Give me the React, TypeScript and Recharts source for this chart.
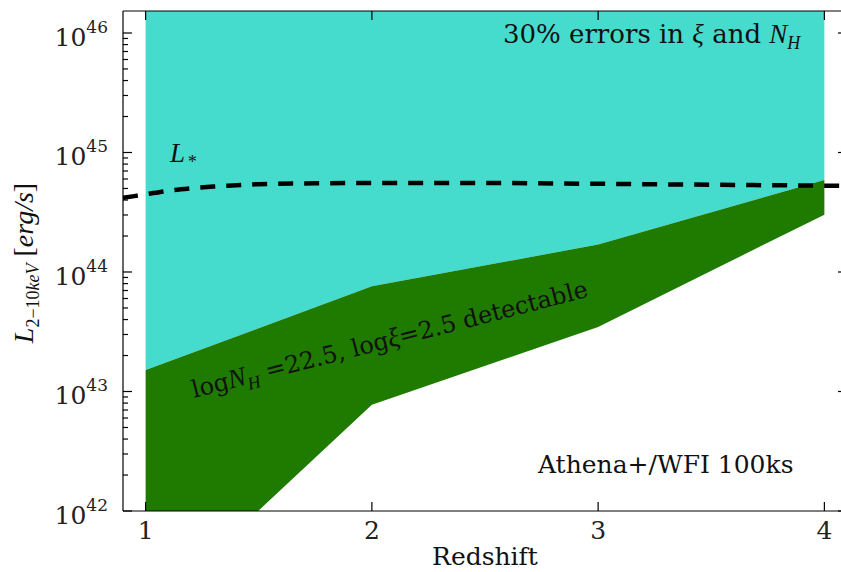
import React from 'react';
import { ComposedChart, Area, Line, XAxis, YAxis } from 'recharts';

// redshift grid of the two bands
const redshift = [1, 2, 3, 4];
// log10 L(2-10 keV) edges of the detectable band (logNH=22.5, logxi=2.5)
const detectLow = [41.12, 42.89, 43.54, 44.48];
const detectHigh = [43.18, 43.88, 44.23, 44.77];
// the 30% error region runs from the top of the band off the top of the plot
const errorTop = [46.6, 46.6, 46.6, 46.6];

// knee luminosity L* versus redshift
const lstarZ = [0.9, 1.0, 1.1, 1.2, 1.3, 1.4, 1.5, 1.75, 2.0, 2.5, 3.0, 3.5, 4.0, 4.1];
const lstarLog = [44.62, 44.65, 44.68, 44.7, 44.715, 44.725, 44.735, 44.742, 44.745, 44.745, 44.738, 44.73, 44.722, 44.72];

const xTicks = [1, 2, 3, 4];
const decades = [42, 43, 44, 45, 46];

const Y_MIN = 42;
const Y_MAX = 46.184;
const X_MIN = 0.9;
const X_MAX = 4.1;

const TURQUOISE = '#46dccd';
const GREEN = '#1f7a00';
const SERIF = '"DejaVu Serif", serif';
const MATH = '"Liberation Serif", "DejaVu Serif", serif';
const TXT = '#111';

const bands = redshift.map((z, i) => ({
  z,
  detect: [detectLow[i], detectHigh[i]],
  errors: [detectHigh[i], errorTop[i]],
}));

const lstar = lstarZ.map((z, i) => ({ z, l: lstarLog[i] }));

// log minor ticks between decades
const yTicks: number[] = [];
decades.forEach((d) => {
  yTicks.push(d);
  for (let k = 2; k <= 9; k++) {
    const v = d + Math.log10(k);
    if (v < Y_MAX) yTicks.push(v);
  }
});

const MAJOR = 9;
const MINOR = 5;

// left axis tick: inward stub plus 10^n label on decades
const LeftTick = (props: any) => {
  const { x, y, payload } = props;
  const major = Number.isInteger(payload.value);
  return (
    <g>
      <line x1={x} x2={x + (major ? MAJOR : MINOR)} y1={y} y2={y} stroke="#000" strokeWidth={1.2} />
      {major && (
        <text x={x - 15} y={y + 13} textAnchor="end" fontFamily={SERIF} fontSize={25} fill="#222">
          10<tspan dy={-13} fontSize={17}>{payload.value}</tspan>
        </text>
      )}
    </g>
  );
};

const RightTick = (props: any) => {
  const { x, y, payload } = props;
  const major = Number.isInteger(payload.value);
  return <line x1={x - (major ? MAJOR : MINOR)} x2={x} y1={y} y2={y} stroke="#000" strokeWidth={1.2} />;
};

const BottomTick = (props: any) => {
  const { x, y, payload } = props;
  return (
    <g>
      <line x1={x} x2={x} y1={y - MAJOR} y2={y} stroke="#000" strokeWidth={1.2} />
      <text x={x} y={y + 28} textAnchor="middle" fontFamily={SERIF} fontSize={25} fill="#222">
        {payload.value}
      </text>
    </g>
  );
};

const TopTick = (props: any) => {
  const { x, y } = props;
  return <line x1={x} x2={x} y1={y} y2={y + MAJOR} stroke="#000" strokeWidth={1.2} />;
};

export default function App() {
  return (
    <div style={{ position: 'absolute', left: 0, top: 0, width: 841, height: 572, overflow: 'hidden', background: '#fff' }}>
      <ComposedChart width={870} height={572} margin={{ top: 0, right: 0, bottom: 0, left: 0 }}>
        <XAxis
          type="number"
          dataKey="z"
          domain={[X_MIN, X_MAX]}
          ticks={xTicks}
          allowDataOverflow
          height={61}
          tickSize={0}
          tickMargin={0}
          tickLine={false}
          axisLine={{ stroke: '#000', strokeWidth: 1.2 }}
          tick={<BottomTick />}
          interval={0}
        />
        <XAxis
          xAxisId="top"
          orientation="top"
          type="number"
          dataKey="z"
          domain={[X_MIN, X_MAX]}
          ticks={xTicks}
          allowDataOverflow
          height={11}
          tickSize={0}
          tickMargin={0}
          tickLine={false}
          axisLine={{ stroke: '#000', strokeWidth: 1.2 }}
          tick={<TopTick />}
          interval={0}
        />
        <YAxis
          type="number"
          domain={[Y_MIN, Y_MAX]}
          ticks={yTicks}
          allowDataOverflow
          width={123}
          tickSize={0}
          tickMargin={0}
          tickLine={false}
          axisLine={{ stroke: '#000', strokeWidth: 1.2 }}
          tick={<LeftTick />}
          interval={0}
        />
        <YAxis
          yAxisId="right"
          orientation="right"
          type="number"
          domain={[Y_MIN, Y_MAX]}
          ticks={yTicks}
          allowDataOverflow
          width={23}
          tickSize={0}
          tickMargin={0}
          tickLine={false}
          axisLine={false}
          tick={<RightTick />}
          interval={0}
        />
        <Area
          data={bands}
          dataKey="errors"
          type="linear"
          fill={TURQUOISE}
          fillOpacity={1}
          stroke="none"
          isAnimationActive={false}
          dot={false}
          activeDot={false}
        />
        <Area
          data={bands}
          dataKey="detect"
          type="linear"
          fill={GREEN}
          fillOpacity={1}
          stroke="none"
          isAnimationActive={false}
          dot={false}
          activeDot={false}
        />
        <Line
          data={lstar}
          dataKey="l"
          type="monotone"
          stroke="#000"
          strokeWidth={4.5}
          strokeDasharray="15 11"
          dot={false}
          activeDot={false}
          isAnimationActive={false}
        />
      </ComposedChart>

      <svg
        width={841}
        height={572}
        style={{ position: 'absolute', left: 0, top: 0, display: 'block', pointerEvents: 'none' }}
      >
        <text x={503} y={43} fontFamily={SERIF} fontSize={26} fill={TXT}>
          30% errors in <tspan fontFamily={MATH} fontStyle="italic" fontSize={27}>ξ</tspan> and{' '}
          <tspan fontFamily={MATH} fontStyle="italic" fontSize={27}>N</tspan>
          <tspan fontFamily={MATH} fontStyle="italic" fontSize={18} dy={6}>H</tspan>
        </text>

        <text x={170} y={162} fontFamily={MATH} fontStyle="italic" fontSize={27} fill={TXT}>
          L<tspan fontSize={18} dy={6} dx={2}>*</tspan>
        </text>

        <text x={538} y={473} fontFamily={SERIF} fontSize={25} fill={TXT}>
          Athena+/WFI 100ks
        </text>

        <text x={485} y={565} textAnchor="middle" fontFamily={SERIF} fontSize={25} fill={TXT}>
          Redshift
        </text>

        <text transform="translate(33,263) rotate(-90)" textAnchor="middle" fontFamily={MATH} fontSize={28} fill={TXT}>
          <tspan fontStyle="italic">L</tspan>
          <tspan fontSize={18} dy={6}>2−10<tspan fontStyle="italic">keV</tspan></tspan>
          <tspan dy={-6}> [<tspan fontStyle="italic">erg/s</tspan>]</tspan>
        </text>

        <text transform="translate(194,398) rotate(-14.4)" fontFamily={SERIF} fontSize={24} fill={TXT}>
          log<tspan fontFamily={MATH} fontStyle="italic" fontSize={27}>N</tspan>
          <tspan fontFamily={MATH} fontStyle="italic" fontSize={18} dy={6}>H</tspan>
          <tspan dy={-6}> =22.5, log</tspan>
          <tspan fontFamily={MATH} fontStyle="italic" fontSize={27}>ξ</tspan>
          <tspan>=2.5 detectable</tspan>
        </text>
      </svg>
    </div>
  );
}
